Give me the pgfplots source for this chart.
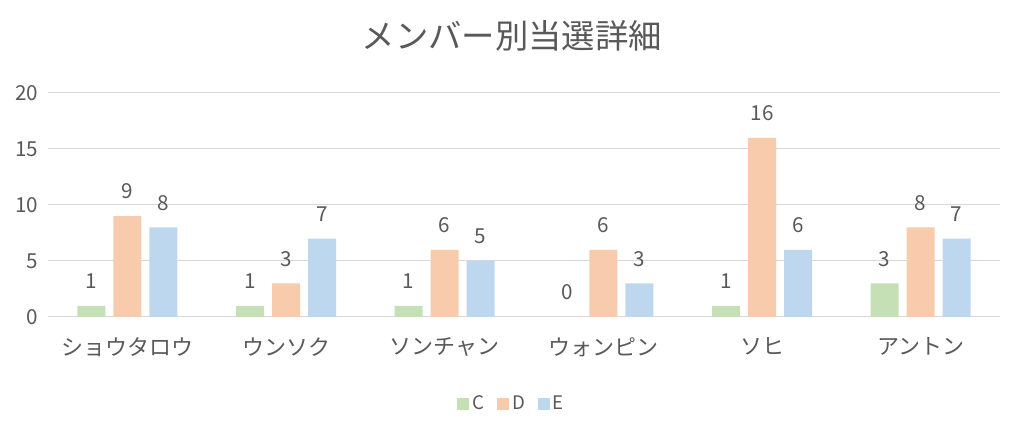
\documentclass[border=0pt]{standalone}
\usepackage{pgfplots}
\pgfplotsset{compat=1.18}
\usepackage{fontspec}
\setmainfont{Noto Sans CJK JP}
\definecolor{cC}{HTML}{C5E0B4}
\definecolor{cD}{HTML}{F8CBAD}
\definecolor{cE}{HTML}{BDD7EE}
\definecolor{txt}{HTML}{595959}
\definecolor{grd}{HTML}{D9D9D9}
\begin{document}
\begin{tikzpicture}
\useasboundingbox (0,0) rectangle (768pt,320.25pt);
\begin{axis}[
  at={(36pt,82.5pt)}, anchor=south west,
  scale only axis, width=714pt, height=168pt,
  ymin=0, ymax=20, xmin=-0.5, xmax=5.5,
  ytick={0,5,10,15,20},
  xtick={0,1,2,3,4,5},
  xticklabels={ショウタロウ,ウンソク,ソンチャン,ウォンピン,ソヒ,アントン},
  ymajorgrids, grid style={grd, line width=0.75pt},
  axis line style={draw=none},
  tick style={draw=none},
  major tick length=0pt,
  tick label style={color=txt},
  yticklabel style={font=\fontsize{15.5}{18}\selectfont, xshift=-4pt},
  xticklabel style={font=\fontsize{16.5}{19}\selectfont, yshift=-12pt},
  /pgf/number format/assume math mode=true,
  ybar, bar width=21pt,
  nodes near coords,
  nodes near coords style={font=\fontsize{15.5}{18}\selectfont, color=txt, anchor=base, yshift=13pt},
  title={メンバー別当選詳細},
  title style={font=\fontsize{25}{28}\selectfont, color=txt, at={(0.5,1)}, xshift=-9pt, yshift=22pt, anchor=south},
  legend style={draw=none, at={(0.5,-0.388)}, xshift=-9pt, anchor=center, legend columns=3,
    font=\fontsize{14}{16}\selectfont, text=txt,
    /tikz/every even column/.append style={column sep=8pt}},
  legend image code/.code={\fill[#1] (0pt,-4.5pt) rectangle (9pt,4.5pt);},
]
\draw[grd, line width=0.75pt] (axis cs:-0.5,0) -- (axis cs:5.5,0);
\addplot[fill=cC, draw=none, bar shift=-27pt] coordinates {(0,1) (1,1) (2,1) (3,0) (4,1) (5,3)};
\addplot[fill=cD, draw=none, bar shift=0pt] coordinates {(0,9) (1,3) (2,6) (3,6) (4,16) (5,8)};
\addplot[fill=cE, draw=none, bar shift=27pt] coordinates {(0,8) (1,7) (2,5) (3,3) (4,6) (5,7)};
\legend{C,D,E}
\end{axis}
\end{tikzpicture}
\end{document}
